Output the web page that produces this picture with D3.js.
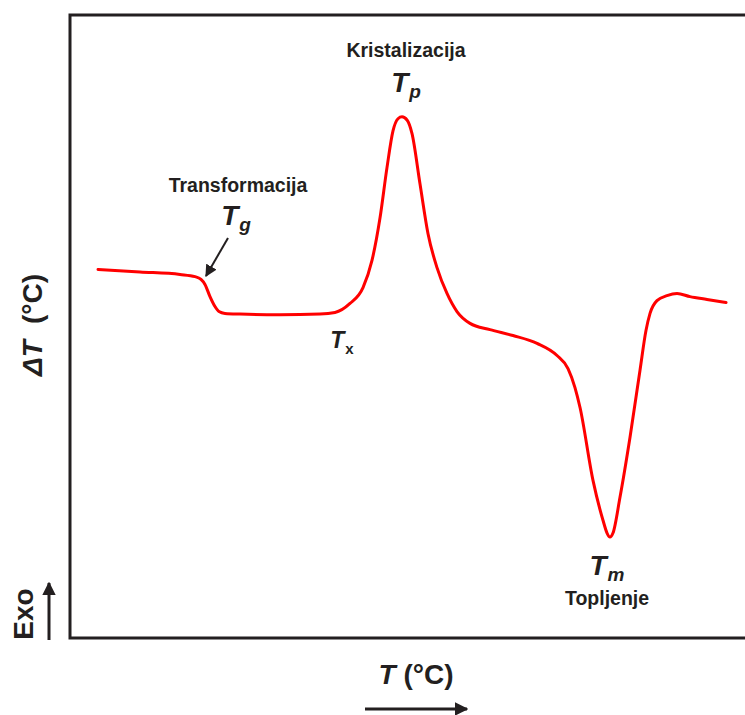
<!DOCTYPE html>
<html>
<head>
<meta charset="utf-8">
<script src="https://cdn.jsdelivr.net/npm/d3@7"></script>
<style>
  html, body { margin: 0; padding: 0; background: #fff; }
  svg { display: block; font-family: "Liberation Sans", Arial, Helvetica, sans-serif; }
</style>
</head>
<body>
<svg id="chart" width="745" height="715"></svg>
<script>
// Temperature (arbitrary units, 0..100 across the plot)
const temperature = [4.15, 10.37, 16.30, 18.52, 19.41, 20.0, 20.74, 21.48, 22.07, 22.96, 25.19, 31.11, 37.04, 39.26,
  41.48, 43.41, 44.74, 45.93, 46.96, 47.85, 48.59, 49.19, 49.93, 50.67, 51.85, 53.04, 54.37, 55.85, 57.33,
  59.26, 62.22, 65.63, 69.19, 72.15, 73.78, 74.81, 75.56, 77.48, 78.96, 79.56, 80.0, 80.44, 81.48, 82.96,
  84.44, 85.33, 85.93, 86.96, 88.44, 89.93, 91.85, 94.37, 97.19];
// Heat-flow signal ΔT (arbitrary units, -10..10)
const deltaT = [1.83, 1.75, 1.67, 1.60, 1.51, 1.35, 0.96, 0.64, 0.48, 0.42, 0.40, 0.38, 0.40, 0.45,
  0.74, 1.25, 2.12, 3.49, 5.10, 6.28, 6.67, 6.73, 6.63, 6.19, 4.58, 2.98, 1.89, 1.06, 0.48,
  0.10, -0.10, -0.29, -0.54, -0.93, -1.35, -1.96, -2.60, -4.94, -6.22, -6.63, -6.76, -6.63, -5.48, -3.56,
  -1.41, -0.13, 0.42, 0.83, 0.99, 1.06, 0.96, 0.87, 0.77];

const xDomain = [0, 100];
const yDomain = [-10, 10];

const svg = d3.select("#chart");
const plot = { left: 70, top: 15, right: 745, bottom: 638 };

const x = d3.scaleLinear().domain(xDomain).range([plot.left, plot.right]);
const y = d3.scaleLinear().domain(yDomain).range([plot.bottom, plot.top]);

const textColor = "#231f20";

// defs: arrow markers
const defs = svg.append("defs");
defs.append("marker").attr("id", "arrowBig")
  .attr("viewBox", "0 0 10 10").attr("refX", 9).attr("refY", 5)
  .attr("markerWidth", 4.5).attr("markerHeight", 4.5).attr("markerUnits", "strokeWidth")
  .attr("orient", "auto")
  .append("path").attr("d", "M0,0 L10,5 L0,10 Z").attr("fill", textColor);
defs.append("marker").attr("id", "arrowSmall")
  .attr("viewBox", "0 0 10 10").attr("refX", 9).attr("refY", 5)
  .attr("markerWidth", 6).attr("markerHeight", 6).attr("markerUnits", "strokeWidth")
  .attr("orient", "auto")
  .append("path").attr("d", "M0,0 L10,5 L0,10 Z").attr("fill", textColor);

// frame (left, top, bottom)
svg.append("path")
  .attr("d", `M${plot.right},${plot.top} L${plot.left},${plot.top} L${plot.left},${plot.bottom} L${plot.right},${plot.bottom}`)
  .attr("fill", "none").attr("stroke", "#231f20").attr("stroke-width", 3);

// curve
const data = temperature.map((t, i) => ({ t, d: deltaT[i] }));
const line = d3.line().x(p => x(p.t)).y(p => y(p.d)).curve(d3.curveMonotoneX);
svg.append("path").datum(data)
  .attr("d", line)
  .attr("fill", "none").attr("stroke", "#ff0000").attr("stroke-width", 3)
  .attr("stroke-linejoin", "round").attr("stroke-linecap", "round");

// Annotations
function label(xp, yp, txt, size) {
  svg.append("text").attr("x", xp).attr("y", yp).attr("text-anchor", "middle")
    .attr("font-size", size).attr("font-weight", "bold").attr("fill", textColor).text(txt);
}
function sym(xp, yp, main, sub, size, subSize, subItalic, subDy) {
  const t = svg.append("text").attr("x", xp).attr("y", yp).attr("text-anchor", "middle")
    .attr("font-weight", "bold").attr("fill", textColor);
  t.append("tspan").attr("font-size", size).attr("font-style", "italic").text(main);
  t.append("tspan").attr("font-size", subSize).attr("font-style", subItalic ? "italic" : "normal")
    .attr("dx", 1).attr("dy", subDy).text(sub);
}

label(406, 57, "Kristalizacija", 19.5);
sym(406, 92, "T", "p", 28, 19, true, 6);

label(238, 192, "Transformacija", 19.5);
sym(236, 225, "T", "g", 28, 19, true, 6);

sym(342, 348, "T", "x", 23, 15, false, 6);

sym(607, 575, "T", "m", 28, 19, true, 6);
label(607, 605, "Topljenje", 19.5);

// Tg arrow
svg.append("line").attr("x1", 228).attr("y1", 238).attr("x2", 206).attr("y2", 276)
  .attr("stroke", textColor).attr("stroke-width", 2).attr("marker-end", "url(#arrowSmall)");

// Y axis title
const yt = svg.append("text")
  .attr("transform", "translate(42,325) rotate(-90)")
  .attr("text-anchor", "middle").attr("font-size", 28).attr("font-weight", "bold").attr("fill", textColor);
yt.append("tspan").attr("font-style", "italic").text("ΔT");
yt.append("tspan").attr("dx", 16).text("(°C)");

// Exo label + arrow
svg.append("text").attr("transform", "translate(33,614) rotate(-90)")
  .attr("text-anchor", "middle").attr("font-size", 28).attr("font-weight", "bold").attr("fill", textColor)
  .text("Exo");
svg.append("line").attr("x1", 49).attr("y1", 640).attr("x2", 49).attr("y2", 583)
  .attr("stroke", textColor).attr("stroke-width", 3).attr("marker-end", "url(#arrowBig)");

// X axis title
const xt = svg.append("text").attr("x", 416).attr("y", 684).attr("text-anchor", "middle")
  .attr("font-size", 28).attr("font-weight", "bold").attr("fill", textColor);
xt.append("tspan").attr("font-style", "italic").text("T");
xt.append("tspan").attr("dx", 8).text("(°C)");

svg.append("line").attr("x1", 365).attr("y1", 709).attr("x2", 467).attr("y2", 709)
  .attr("stroke", textColor).attr("stroke-width", 3).attr("marker-end", "url(#arrowBig)");
</script>
</body>
</html>
